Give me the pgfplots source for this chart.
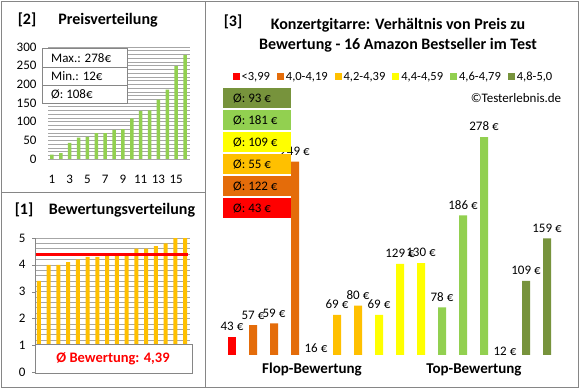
\documentclass[border=0pt]{standalone}
\usepackage{pgfplots}
\pgfplotsset{compat=1.18}
\usepackage{fontspec}
\setmainfont{Carlito}
\definecolor{cRed}{HTML}{FF0000}
\definecolor{cOrange}{HTML}{E46C0A}
\definecolor{cGold}{HTML}{FFC000}
\definecolor{cYellow}{HTML}{FFFF00}
\definecolor{cLGreen}{HTML}{92D050}
\definecolor{cDGreen}{HTML}{77933C}
\definecolor{frame}{HTML}{868686}
\definecolor{gridc}{HTML}{A6A6A6}
\newcommand{\fs}[1]{\fontsize{#1}{#1}\selectfont}
\pgfplotsset{sqlegend/.style={legend image code/.code={\fill[##1] (0pt,-3.5pt) rectangle (7pt,3.5pt);}}}
\begin{document}
\begin{tikzpicture}
\useasboundingbox (0pt,0pt) rectangle (580pt,390pt);
\begin{scope}[x=1pt,y=1pt]
\fill[white] (0,0) rectangle (580,390);
\draw[frame, line width=0.8pt] (1,3) rectangle (578,389);
\draw[frame, line width=0.8pt] (205,3) -- (205,389);
\draw[frame, line width=0.8pt] (1,198) -- (205,198);
\node[font=\fs{16}\bfseries] at (27,370) {[2]};
\node[font=\fs{16}\bfseries] at (108,370) {Preisverteilung};
\node[font=\fs{16}\bfseries] at (24,180) {[1]};
\node[font=\fs{16}\bfseries] at (122,180) {Bewertungsverteilung};
\node[font=\fs{16}\bfseries] at (233,368) {[3]};
\node[font=\fs{16}\bfseries] at (398,365) {Konzertgitarre: Verhältnis von Preis zu};
\node[font=\fs{16}\bfseries] at (398,345) {Bewertung - 16 Amazon Bestseller im Test};
\node[font=\fs{13}] at (516,292) {©Testerlebnis.de};
\end{scope}

% ---------- Panel 2 ----------
\begin{axis}[at={(48pt,231pt)}, anchor=south west, scale only axis,
  width=142pt, height=112pt,
  ymin=0, ymax=300, xmin=0.55, xmax=16.55,
  axis line style={draw=none}, major tick length=0pt, minor tick length=0pt,
  ytick={0,50,...,300}, minor y tick num=4,
  xtick={1,3,...,15},
  ymajorgrids, yminorgrids,
  grid style={gridc, line width=0.5pt}, minor grid style={gridc, line width=0.5pt},
  tick label style={font=\fs{13}},
  /pgf/number format/assume math mode=true,
  yticklabel style={xshift=-8pt},
  xticklabel style={yshift=-13pt},
]
\addplot[ybar, bar width=3.5pt, bar shift=0pt, fill=cLGreen, draw=none]
 coordinates {(1,12)(2,16)(3,43)(4,57)(5,59)(6,69)(7,69)(8,78)(9,80)(10,109)(11,129)(12,130)(13,159)(14,186)(15,249)(16,278)};
\end{axis}

% ---------- Panel 1 ----------
\begin{axis}[at={(35pt,18pt)}, anchor=south west, scale only axis,
  width=155pt, height=134pt,
  ymin=0, ymax=5, xmin=0.6, xmax=16.5,
  axis lines*=left, x axis line style={draw=none}, y axis line style={frame},
  xtick=\empty, ytick={0,1,...,5}, minor y tick num=4,
  tick align=outside, major tick length=3pt, minor tick length=0pt,
  major tick style={frame},
  ymajorgrids, yminorgrids,
  grid style={gridc, line width=0.5pt}, minor grid style={gridc, line width=0.5pt},
  tick label style={font=\fs{13}},
  /pgf/number format/assume math mode=true,
  yticklabel style={xshift=-3pt},
]
\addplot[ybar, bar width=4pt, bar shift=0pt, fill=cGold, draw=none]
 coordinates {(1,3.4)(2,4.0)(3,4.0)(4,4.1)(5,4.2)(6,4.3)(7,4.3)(8,4.4)(9,4.4)(10,4.4)(11,4.6)(12,4.6)(13,4.7)(14,4.8)(15,5.0)(16,5.0)};
\addplot[cRed, line width=2.5pt, sharp plot] coordinates {(0.7,4.39)(16.3,4.39)};
\end{axis}

% ---------- Panel 3 ----------
\begin{axis}[at={(211pt,35pt)}, anchor=south west, scale only axis,
  width=357pt, height=235pt,
  ymin=22, ymax=298, xmin=-1, xmax=16, hide axis, clip=false,
  point meta=y,
  nodes near coords={\pgfmathprintnumber{\pgfplotspointmeta}~€},
  nodes near coords style={font=\fs{13}, /pgf/number format/assume math mode=true, yshift=2.5pt},
  legend columns=6,
  legend style={at={(0.511,1.183)}, anchor=center, draw=none, fill=none,
    font=\fs{12.5}, /tikz/every even column/.append style={column sep=5pt},
    legend cell align=left},
]
\addplot[ybar, bar width=8pt, bar shift=0pt, fill=cRed, draw=none, sqlegend] coordinates {(0,43)};
\addlegendentry{<3,99}
\addplot[ybar, bar width=8pt, bar shift=0pt, fill=cOrange, draw=none, sqlegend] coordinates {(1,57)(2,59)(3,249)};
\addlegendentry{4,0-4,19}
\addplot[ybar, bar width=8pt, bar shift=0pt, fill=cGold, draw=none, sqlegend] coordinates {(5,69)(6,80)};
\addlegendentry{4,2-4,39}
\addplot[ybar, bar width=8pt, bar shift=0pt, fill=cYellow, draw=none, sqlegend] coordinates {(7,69)(8,129)(9,130)};
\addlegendentry{4,4-4,59}
\addplot[ybar, bar width=8pt, bar shift=0pt, fill=cLGreen, draw=none, sqlegend] coordinates {(10,78)(11,186)(12,278)};
\addlegendentry{4,6-4,79}
\addplot[ybar, bar width=8pt, bar shift=0pt, fill=cDGreen, draw=none, sqlegend] coordinates {(14,109)(15,159)};
\addlegendentry{4,8-5,0}
% the 16 EUR and 12 EUR products lie below the axis minimum: no visible bar, label at the base
\addplot[ybar, bar width=8pt, bar shift=0pt, draw=none, fill=none, point meta=explicit, forget plot,
  every node near coord/.append style={yshift=-4pt}]
 coordinates {(4,22)[16]};
\addplot[ybar, bar width=8pt, bar shift=0pt, draw=none, fill=none, point meta=explicit, forget plot,
  every node near coord/.append style={yshift=-7pt}]
 coordinates {(13,22)[12]};
\end{axis}

\begin{scope}[x=1pt,y=1pt]
% panel 2 info box
\draw[frame, fill=white, line width=0.6pt] (42,287) rectangle (127,342);
\draw[frame, line width=0.6pt] (42,323) -- (127,323);
\draw[frame, line width=0.6pt] (42,305) -- (127,305);
\node[font=\fs{13}, anchor=west, inner sep=0] at (51,332) {Max.: 278€};
\node[font=\fs{13}, anchor=west, inner sep=0] at (51,314) {Min.: 12€};
\node[font=\fs{13}, anchor=west, inner sep=0] at (51,296) {Ø: 108€};
% panel 1 box
\draw[frame, fill=white, line width=0.6pt] (35,17) rectangle (192,46);
\node[font=\fs{14.5}\bfseries, text=cRed] at (113,31) {Ø Bewertung: 4,39};
% average boxes
\fill[cDGreen] (223,282) rectangle (291,302);
\fill[cLGreen] (223,260) rectangle (291,280);
\fill[cYellow] (223,238) rectangle (291,258);
\fill[cGold]   (223,216) rectangle (291,236);
\fill[cOrange] (223,194) rectangle (291,214);
\fill[cRed]    (223,172) rectangle (291,192);
\node[font=\fs{13}, anchor=west, inner sep=0] at (233,292) {Ø: 93 €};
\node[font=\fs{13}, anchor=west, inner sep=0] at (233,270) {Ø: 181 €};
\node[font=\fs{13}, anchor=west, inner sep=0] at (233,248) {Ø: 109 €};
\node[font=\fs{13}, anchor=west, inner sep=0] at (233,226) {Ø: 55 €};
\node[font=\fs{13}, anchor=west, inner sep=0] at (233,204) {Ø: 122 €};
\node[font=\fs{13}, anchor=west, inner sep=0] at (233,182) {Ø: 43 €};
\node[font=\fs{15}\bfseries] at (312,20) {Flop-Bewertung};
\node[font=\fs{15}\bfseries] at (474,20) {Top-Bewertung};
\end{scope}
\end{tikzpicture}
\end{document}
